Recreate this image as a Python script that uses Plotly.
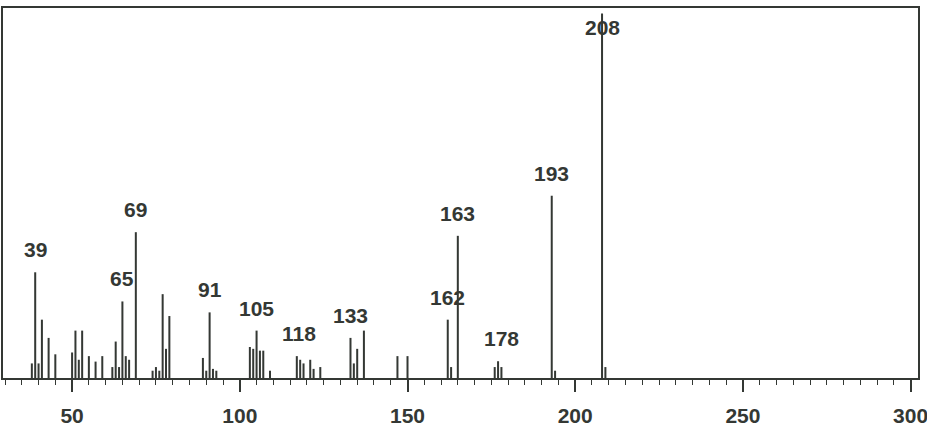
import plotly.graph_objects as go

# Mass spectrum peaks (m/z, relative intensity %)
mz = [38, 39, 40, 41, 43, 45, 50, 51, 52, 53, 55, 57, 59, 62, 63, 64, 65, 66, 67, 69,
      74, 75, 76, 77, 78, 79, 89, 90, 91, 92, 93,
      103, 104, 105, 106, 107, 109, 117, 118, 119, 121, 122, 124,
      133, 134, 135, 137, 147, 150,
      162, 163, 165, 176, 177, 178, 193, 194, 208, 209]
intensity = [4, 29, 4, 16, 11, 6.5, 7, 13, 5, 13, 6, 4.5, 6, 3, 10, 3, 21, 6, 5, 40,
             2, 3, 2, 23, 8, 17, 5.5, 2, 18, 2.5, 2,
             8.5, 8, 13, 7.5, 7.5, 2, 6, 5, 4, 5, 2.5, 3,
             11, 4, 8, 13, 6, 6,
             16, 3, 39, 3, 4.6, 3, 50, 2, 100, 3]

# Labelled peaks (position, printed text)
label_mz = [39, 65, 69, 91, 105, 117.5, 133, 162, 165, 178, 193, 208.2]
label_int = [29, 21, 40, 18, 13, 6, 11, 16, 39, 4.6, 50, 100]
label_txt = ["39", "65", "69", "91", "105", "118", "133", "162", "163", "178", "193", "208"]

tick_vals = [50, 100, 150, 200, 250, 300]
tick_txt = ["50", "100", "150", "200", "250", "300"]

INK = "#343834"
FONT = "Liberation Sans Narrow, Liberation Sans, Arial, sans-serif"

fig = go.Figure()
fig.add_trace(go.Bar(x=mz, y=intensity, width=0.6,
                     marker=dict(color=INK, line=dict(width=0)),
                     hoverinfo="x+y"))

for x, y, t in zip(label_mz, label_int, label_txt):
    fig.add_annotation(x=x, y=min(y, 90), text=t, showarrow=False,
                       yanchor="bottom", xanchor="center", yshift=9,
                       font=dict(family=FONT, size=21, color=INK, weight="bold"))

fig.update_layout(
    width=927, height=442,
    margin=dict(l=3, r=9, t=8, b=64, autoexpand=False),
    paper_bgcolor="white", plot_bgcolor="white",
    showlegend=False,
    xaxis=dict(range=[29.4, 302.2], showgrid=False, zeroline=False, automargin=False,
               showline=True, linecolor=INK, linewidth=2, mirror=True,
               tickmode="array", tickvals=tick_vals, ticktext=tick_txt,
               ticks="outside", ticklen=12, tickwidth=1.5, tickcolor=INK,
               ticklabelstandoff=6, ticklabeloverflow="allow",
               minor=dict(dtick=5, tick0=0, ticks="outside", ticklen=5,
                          tickwidth=1, tickcolor=INK, showgrid=False),
               tickfont=dict(family=FONT, size=21, color=INK, weight="bold")),
    yaxis=dict(range=[0, 101.5], showgrid=False, zeroline=False, automargin=False,
               showline=True, linecolor=INK, linewidth=1.5, mirror=True,
               showticklabels=False, ticks=""),
)

fig.write_html("out.html")
